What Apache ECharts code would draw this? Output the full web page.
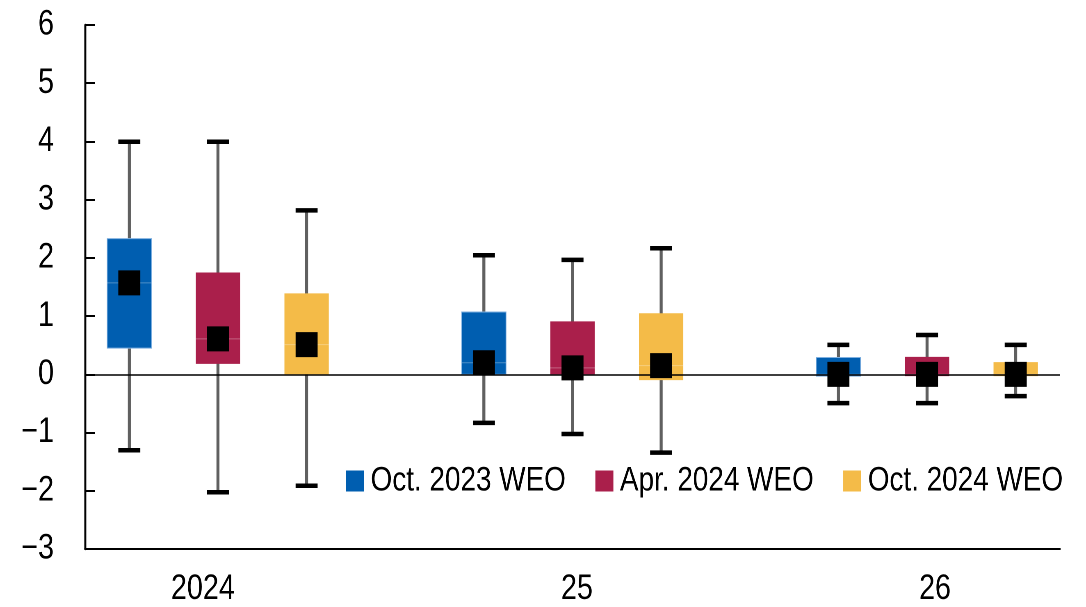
<!DOCTYPE html>
<html>
<head>
<meta charset="utf-8">
<script src="https://cdn.jsdelivr.net/npm/echarts@6/dist/echarts.min.js"></script>
<style>
html,body{margin:0;padding:0;background:#fff;overflow:hidden;width:1086px;height:607px;}
/* Narrow-font emulation: the chart is laid out 1324px wide and condensed horizontally to 1086px */
#chart{width:1324px;height:607px;transform:scaleX(0.82024);transform-origin:0 0;}
</style>
</head>
<body>
<div id="chart"></div>
<script>
// ---- data ----
const groupLabels = ['2024', '25', '26'];
const seriesNames = ['Oct. 2023 WEO', 'Apr. 2024 WEO', 'Oct. 2024 WEO'];
const seriesColors = ['#005EB0', '#AA1F4B', '#F4BB48'];

// Oct. 2023 WEO
const oct23WhiskerHigh = [4.00, 2.05, 0.51];
const oct23BoxHigh     = [2.33, 1.07, 0.29];
const oct23BoxLow      = [0.45, 0.00, -0.03];
const oct23WhiskerLow  = [-1.30, -0.83, -0.49];
const oct23Median      = [1.57, 0.20, 0.00];
// Apr. 2024 WEO
const apr24WhiskerHigh = [4.00, 1.97, 0.68];
const apr24BoxHigh     = [1.75, 0.91, 0.30];
const apr24BoxLow      = [0.18, 0.00, -0.03];
const apr24WhiskerLow  = [-2.02, -1.02, -0.49];
const apr24Median      = [0.61, 0.11, 0.00];
// Oct. 2024 WEO
const oct24WhiskerHigh = [2.82, 2.17, 0.51];
const oct24BoxHigh     = [1.39, 1.05, 0.21];
const oct24BoxLow      = [0.00, -0.10, -0.03];
const oct24WhiskerLow  = [-1.91, -1.34, -0.37];
const oct24Median      = [0.51, 0.15, 0.00];

// x-axis group label positions (slot units)
const groupLabelPos = [0.83, 5.05, 9.09];

const allSeries = [
  {wh: oct23WhiskerHigh, bh: oct23BoxHigh, bl: oct23BoxLow, wl: oct23WhiskerLow, md: oct23Median},
  {wh: apr24WhiskerHigh, bh: apr24BoxHigh, bl: apr24BoxLow, wl: apr24WhiskerLow, md: apr24Median},
  {wh: oct24WhiskerHigh, bh: oct24BoxHigh, bl: oct24BoxLow, wl: oct24WhiskerLow, md: oct24Median}
];

const SX = 1324 / 1086; // horizontal layout factor (compensates the CSS condensing)
const FONT = "'Liberation Sans', Arial, sans-serif";
const SLOTS_PER_GROUP = 4;

function slotOf(g, s) { return g * SLOTS_PER_GROUP + s; }

function renderBox(params, api) {
  const x = api.value(0);
  const wl = api.value(1), bl = api.value(2), bh = api.value(3), wh = api.value(4), md = api.value(5);
  const slotW = api.size([1, 0])[0];
  const boxW = slotW * 0.5;
  const capW = 22 * SX;
  const pTop = api.coord([x, wh]);
  const pBot = api.coord([x, wl]);
  const pBH = api.coord([x, bh]);
  const pBL = api.coord([x, bl]);
  const pMd = api.coord([x, md]);
  const cx = pTop[0];
  const color = api.visual('color');
  const isBlue = params.seriesIndex === 0;
  return {
    type: 'group',
    children: [
      {type: 'line', shape: {x1: cx, y1: pTop[1], x2: cx, y2: pBot[1]},
       style: {stroke: '#606060', lineWidth: 3 * SX}},
      {type: 'rect', shape: {x: cx - boxW / 2, y: pBH[1], width: boxW, height: pBL[1] - pBH[1]},
       style: {fill: color, stroke: isBlue ? '#7fb0e0' : null, lineWidth: isBlue ? 1 : 0}},
      {type: 'line', shape: {x1: cx - boxW / 2, y1: pMd[1], x2: cx + boxW / 2, y2: pMd[1]},
       style: {stroke: 'rgba(255,255,255,0.3)', lineWidth: 1}},
      {type: 'rect', shape: {x: cx - capW / 2, y: pTop[1] - 2, width: capW, height: 4.5},
       style: {fill: '#000'}},
      {type: 'rect', shape: {x: cx - capW / 2, y: pBot[1] - 2, width: capW, height: 4.5},
       style: {fill: '#000'}}
    ]
  };
}

const series = [];
allSeries.forEach((d, s) => {
  const data = groupLabels.map((_, g) => [slotOf(g, s), d.wl[g], d.bl[g], d.bh[g], d.wh[g], d.md[g]]);
  series.push({
    name: seriesNames[s],
    type: 'custom',
    renderItem: renderBox,
    encode: {x: 0, y: [1, 2, 3, 4]},
    itemStyle: {color: seriesColors[s]},
    data: data,
    z: 2,
    silent: true
  });
});
// zero line
series.push({
  type: 'line',
  data: [],
  z: 3,
  silent: true,
  markLine: {
    silent: true,
    symbol: ['none', 'none'],
    label: {show: false},
    lineStyle: {color: '#000', width: 1.5, type: 'solid'},
    data: [{yAxis: 0}],
    z: 3
  }
});
// medians
const medianData = [];
allSeries.forEach((d, s) => {
  groupLabels.forEach((_, g) => medianData.push([slotOf(g, s), d.md[g]]));
});
series.push({
  type: 'scatter',
  symbol: 'rect',
  symbolSize: [22 * SX, 25],
  itemStyle: {color: '#000', opacity: 1},
  data: medianData,
  z: 5,
  silent: true
});

const chart = echarts.init(document.getElementById('chart'), null, {renderer: 'canvas', devicePixelRatio: 2});
chart.setOption({
  animation: false,
  backgroundColor: '#fff',
  grid: {left: 85 * SX, right: 26 * SX, top: 25, bottom: 57, containLabel: false},
  legend: {
    data: seriesNames.map((n, i) => ({name: n, itemStyle: {color: seriesColors[i]}})),
    left: 346 * SX,
    top: 464,
    padding: 0,
    icon: 'rect',
    itemWidth: 18 * SX,
    itemHeight: 21,
    itemGap: 36,
    textStyle: {fontFamily: FONT, fontSize: 34, color: '#000', padding: [0, 0, 0, 3]},
    selectedMode: false
  },
  xAxis: {
    type: 'value',
    min: -0.5,
    max: 10.5,
    splitLine: {show: false},
    axisTick: {show: false},
    axisLine: {show: true, onZero: false, lineStyle: {color: '#000', width: 2}},
    axisLabel: {
      customValues: groupLabelPos,
      formatter: (v) => {
        const i = groupLabelPos.findIndex(p => Math.abs(p - v) < 1e-6);
        return i >= 0 ? groupLabels[i] : '';
      },
      fontFamily: FONT, fontSize: 35, color: '#000', margin: 23
    }
  },
  yAxis: {
    type: 'value',
    min: -3,
    max: 6,
    interval: 1,
    splitLine: {show: false},
    axisLine: {show: true, onZero: false, lineStyle: {color: '#000', width: 2 * SX}},
    axisTick: {show: true, inside: true, length: 10 * SX, lineStyle: {color: '#000', width: 2}},
    axisLabel: {
      formatter: (v) => (v < 0 ? '\u2212' + Math.abs(v) : String(v)),
      fontFamily: FONT, fontSize: 35, color: '#000', margin: 31 * SX
    }
  },
  series: series
});
</script>
</body>
</html>
